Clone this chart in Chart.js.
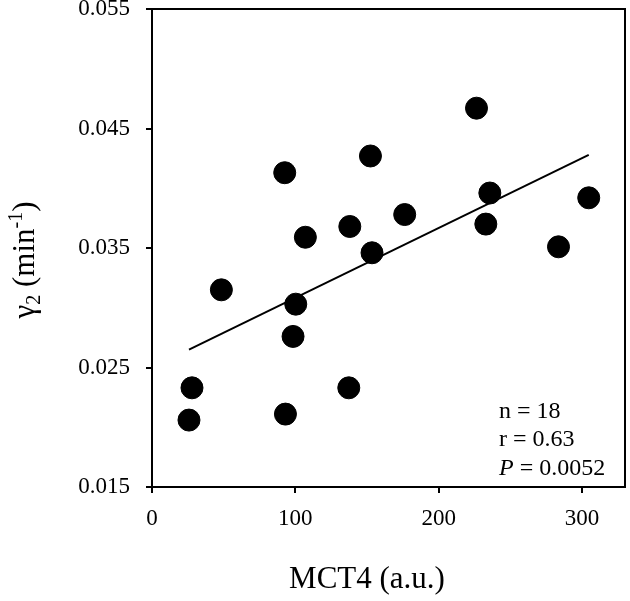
<!DOCTYPE html>
<html>
<head>
<meta charset="utf-8">
<script src="https://cdn.jsdelivr.net/npm/chart.js@4.4.0/dist/chart.umd.min.js"></script>
<style>
  html, body { margin: 0; padding: 0; background: #fff; }
  #wrap { width: 630px; height: 601px; position: relative; }
</style>
</head>
<body>
<div id="wrap"><canvas id="chart"></canvas></div>
<script>
/* ---- data ---- */
const mct4   = [25.8, 27.9, 48.4, 92.6, 93.1, 98.4, 100.3, 107.0, 137.3, 138.0, 152.4, 153.5, 176.3, 226.4, 232.9, 235.7, 283.6, 304.7];
const gamma2 = [0.0206, 0.0233, 0.0315, 0.0413, 0.0211, 0.0276, 0.0303, 0.0359, 0.0233, 0.0368, 0.0427, 0.0346, 0.0378, 0.0467, 0.0370, 0.0396, 0.0351, 0.0392];
const fitX   = [25.8, 304.7];
const fitY   = [0.0265, 0.0428];
const xTicks = [0, 100, 200, 300];
const yTicks = [0.015, 0.025, 0.035, 0.045, 0.055];
const stats  = ["n = 18", "r = 0.63", "= 0.0052"];

const SERIF = "'Liberation Serif', 'Times New Roman', serif";

/* drop the label overhang padding so the plot box sits where the reference has it */
function noPad(s) {
  s.paddingTop = 0; s.paddingBottom = 0; s.paddingLeft = 0; s.paddingRight = 0;
}

/* axis titles, frame and the stats box */
const decor = {
  id: "decor",
  afterDraw(chart) {
    const ctx = chart.ctx, a = chart.chartArea;
    ctx.save();
    ctx.strokeStyle = "#000";
    ctx.lineWidth = 2;
    ctx.strokeRect(a.left, a.top, a.right - a.left, a.bottom - a.top);

    ctx.fillStyle = "#000";
    ctx.textBaseline = "alphabetic";

    // x title, centred on the 0..300 range
    const xs = chart.scales.x;
    const cx = (xs.getPixelForValue(0) + xs.getPixelForValue(300)) / 2;
    ctx.font = "31px " + SERIF;
    ctx.textAlign = "center";
    ctx.fillText("MCT4 (a.u.)", cx, a.bottom + 101);

    // y title with sub/superscript
    const big = "31px " + SERIF, small = "20px " + SERIF;
    const parts = [
      { t: "\u03b3", f: big, dy: 0 },
      { t: "2", f: small, dy: 6 },
      { t: " (min", f: big, dy: 0 },
      { t: "-1", f: small, dy: -12 },
      { t: ")", f: big, dy: 0 }
    ];
    let w = 0;
    parts.forEach(p => { ctx.font = p.f; p.w = ctx.measureText(p.t).width; w += p.w; });
    ctx.translate(34, a.top + 251);
    ctx.rotate(-Math.PI / 2);
    ctx.textAlign = "left";
    let x = -w / 2;
    parts.forEach(p => { ctx.font = p.f; ctx.fillText(p.t, x, p.dy); x += p.w; });
    ctx.setTransform(1, 0, 0, 1, 0, 0);

    // stats box
    const lx = a.right - 126;
    ctx.font = "24px " + SERIF;
    ctx.textAlign = "left";
    ctx.fillText(stats[0], lx, a.bottom - 69);
    ctx.fillText(stats[1], lx, a.bottom - 41);
    ctx.font = "italic 24px " + SERIF;
    ctx.fillText("P", lx, a.bottom - 12);
    const pw = ctx.measureText("P ").width;
    ctx.font = "24px " + SERIF;
    ctx.fillText(stats[2], lx + pw, a.bottom - 12);
    ctx.restore();
  }
};

new Chart(document.getElementById("chart").getContext("2d"), {
  type: "scatter",
  data: {
    datasets: [
      {
        data: mct4.map((v, i) => ({ x: v, y: gamma2[i] })),
        backgroundColor: "#000",
        borderColor: "#000",
        pointRadius: 11,
        pointHoverRadius: 11,
        order: 1
      },
      {
        type: "line",
        data: fitX.map((v, i) => ({ x: v, y: fitY[i] })),
        borderColor: "#000",
        borderWidth: 2,
        pointRadius: 0,
        fill: false,
        order: 2
      }
    ]
  },
  options: {
    responsive: true,
    maintainAspectRatio: false,
    animation: false,
    layout: { autoPadding: false, padding: { top: 9, right: 5, left: 0, bottom: 0 } },
    plugins: { legend: { display: false }, tooltip: { enabled: false } },
    scales: {
      x: {
        type: "linear",
        min: 0, max: 330,
        afterBuildTicks: s => { s.ticks = xTicks.map(v => ({ value: v })); },
        afterFit: s => { s.height = 114; noPad(s); },
        border: { color: "#000", width: 2 },
        grid: { drawOnChartArea: false, drawTicks: true, tickLength: 6, tickColor: "#000", lineWidth: 2 },
        ticks: { color: "#000", padding: 12, maxRotation: 0, font: { family: SERIF, size: 23 } }
      },
      y: {
        min: 0.015, max: 0.055,
        afterBuildTicks: s => { s.ticks = yTicks.map(v => ({ value: v })); },
        afterFit: s => { s.width = 152; noPad(s); },
        border: { color: "#000", width: 2 },
        grid: { drawOnChartArea: false, drawTicks: true, tickLength: 6, tickColor: "#000", lineWidth: 2 },
        ticks: { color: "#000", padding: 16, font: { family: SERIF, size: 23 }, callback: v => v.toFixed(3) }
      }
    }
  },
  plugins: [decor]
});
</script>
</body>
</html>
